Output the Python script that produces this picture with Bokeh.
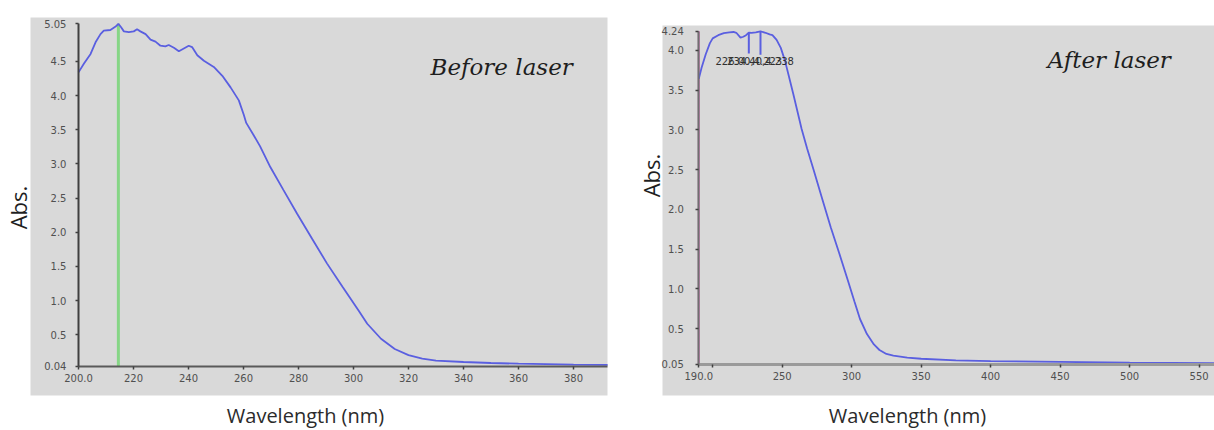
import math

from bokeh.core.properties import value
from bokeh.embed import file_html
from bokeh.layouts import row
from bokeh.models import BoxAnnotation, ColumnDataSource, FixedTicker, Label, PrintfTickFormatter, Range1d
from bokeh.plotting import figure
from bokeh.resources import INLINE

# ---------------------------------------------------------------- data
# UV-Vis absorbance spectrum before laser treatment
before_nm = [200, 202, 204.4, 206.2, 208, 209.2, 211.6, 213.5, 214.5, 215.5,
             216.5, 218.3, 220.1, 221.3, 222.5, 224.4, 226.2, 228, 229.8, 231.6,
             232.8, 234.7, 236.5, 238.3, 240.1, 241.3, 243.2, 245.6, 249.2, 252.3,
             255.3, 258.3, 260.1, 261, 263.7, 266, 269.8, 274.5, 279.5, 285,
             290.4, 296, 301.9, 305, 310, 315, 320, 325, 330, 340,
             350, 360, 370, 380, 392.4]
before_abs = [4.34, 4.47, 4.61, 4.78, 4.90, 4.95, 4.96, 5.01, 5.05, 5.00,
              4.94, 4.93, 4.94, 4.97, 4.94, 4.90, 4.82, 4.79, 4.73, 4.72,
              4.74, 4.70, 4.65, 4.69, 4.73, 4.71, 4.59, 4.51, 4.42, 4.29,
              4.12, 3.93, 3.72, 3.60, 3.42, 3.26, 2.95, 2.62, 2.27, 1.90,
              1.54, 1.20, 0.85, 0.66, 0.44, 0.29, 0.20, 0.15, 0.12, 0.10,
              0.085, 0.075, 0.068, 0.062, 0.058]

# UV-Vis absorbance spectrum after laser treatment
after_nm = [190, 192, 195, 198, 200, 204, 208, 212, 215, 217,
            220, 222, 224, 226, 228, 231, 234.4, 238, 241, 243,
            246, 249, 252, 255, 258, 261, 264, 268, 272.7, 279,
            285, 291, 297, 302, 306, 311, 316, 320, 325, 330,
            340, 350, 375, 400, 450, 500, 561]
after_abs = [3.64, 3.78, 3.95, 4.09, 4.15, 4.19, 4.215, 4.225, 4.23, 4.22,
             4.16, 4.17, 4.19, 4.223, 4.22, 4.225, 4.238, 4.22, 4.20, 4.19,
             4.13, 4.03, 3.87, 3.66, 3.45, 3.23, 3.01, 2.76, 2.49, 2.12,
             1.77, 1.45, 1.12, 0.84, 0.62, 0.43, 0.30, 0.23, 0.18, 0.16,
             0.135, 0.12, 0.10, 0.09, 0.08, 0.07, 0.065]

# picked peaks on the "after" spectrum
after_peaks_nm = [226, 234.4]

# axis ticks and their labels
before_xticks = [200, 220, 240, 260, 280, 300, 320, 340, 360, 380]
before_xtick_labels = ["200.0", "220", "240", "260", "280", "300", "320", "340", "360", "380"]
before_yticks = [0.04, 0.5, 1.0, 1.5, 2.0, 2.5, 3.0, 3.5, 4.0, 4.5, 5.05]
before_ytick_labels = ["0.04", "0.5", "1.0", "1.5", "2.0", "2.5", "3.0", "3.5", "4.0", "4.5", "5.05"]

after_xticks = [190, 200, 250, 300, 350, 400, 450, 500, 550]
after_xtick_labels = ["190.0", "", "250", "300", "350", "400", "450", "500", "550"]
after_yticks = [0.05, 0.5, 1.0, 1.5, 2.0, 2.5, 3.0, 3.5, 4.0, 4.24]
after_ytick_labels = ["0.05", "0.5", "1.0", "1.5", "2.0", "2.5", "3.0", "3.5", "4.0", "4.24"]

# ---------------------------------------------------------------- style
PANEL = "#d9d9d9"
CURVE = "#5a5fe0"
TICK_FONT = "DejaVu Sans"
TICK_COLOR = "#505050"


def make_panel(width, x_range, y_range, panel_box):
    """Whole canvas is the data frame; the grey instrument panel is a box behind the plot."""
    p = figure(width=width, height=430, x_range=Range1d(*x_range), y_range=Range1d(*y_range),
               output_backend="svg", toolbar_location=None,
               min_border_left=0, min_border_right=0, min_border_top=0, min_border_bottom=0,
               background_fill_color="white", border_fill_color="white",
               outline_line_color=None)
    p.title.visible = False
    p.grid.visible = False
    left, right, bottom, top = panel_box
    p.add_layout(BoxAnnotation(left=left, right=right, bottom=bottom, top=top,
                               fill_color=PANEL, fill_alpha=1.0, line_color=None,
                               level="underlay"))
    return p


def style_axis(ax, ticks, labels, fixed, bounds, line_color, line_width, standoff):
    ax.ticker = FixedTicker(ticks=ticks)
    ax.formatter = PrintfTickFormatter(format="%.1f")
    ax.major_label_overrides = dict(zip(ticks, labels))
    ax.fixed_location = fixed
    ax.bounds = bounds
    ax.axis_line_color = line_color
    ax.axis_line_width = line_width
    ax.major_tick_in = 0
    ax.major_tick_out = 3
    ax.major_tick_line_color = "#404040"
    ax.major_tick_line_width = 1.5
    ax.minor_tick_line_color = None
    ax.major_label_text_font = TICK_FONT
    ax.major_label_text_font_size = "10px"
    ax.major_label_text_color = TICK_COLOR
    ax.major_label_standoff = standoff


def outer_labels(p, abs_xy, wl_xy, title, title_xy):
    p.add_layout(Label(x=abs_xy[0], y=abs_xy[1], x_units="screen", y_units="screen",
                       text="Abs.", angle=math.pi / 2, text_align="center",
                       text_baseline="middle", text_font="Open Sans",
                       text_font_size="22px", text_color="#1f1f1f"))
    p.add_layout(Label(x=wl_xy[0], y=wl_xy[1], x_units="screen", y_units="screen",
                       text="Wavelength (nm)", text_align="center",
                       text_baseline="middle", text_font="Open Sans",
                       text_font_size="20px", text_color="#2b2b2b"))
    p.add_layout(Label(x=title_xy[0], y=title_xy[1], x_units="screen", y_units="screen",
                       text=title, text_align="left", text_baseline="alphabetic",
                       text_font="DejaVu Serif", text_font_style="italic",
                       text_font_size="23px", text_color="#1e1e1e"))


# ---------------------------------------------------------------- before laser
p1 = make_panel(634, (171.64, 402.18), (-0.903, 5.392), (182.55, 392.36, -0.391, 5.143))
style_axis(p1.xaxis[0], before_xticks, before_xtick_labels, before_yticks[0],
           (before_xticks[0], 392.36), "#5a5a5a", 2, 5)
style_axis(p1.yaxis[0], before_yticks, before_ytick_labels, before_xticks[0],
           (before_yticks[0], before_yticks[-1]), "#404040", 2, 9)

peak_i = before_abs.index(max(before_abs))
p1.segment(x0=[before_nm[peak_i]], y0=[before_yticks[0]], x1=[before_nm[peak_i]],
           y1=[before_yticks[-1]], line_color="#86d686", line_width=3)
p1.line(before_nm, before_abs, line_color=CURVE, line_width=1.8)

outer_labels(p1, (17, 223), (305, 15), "Before laser", (430, 364))

# ---------------------------------------------------------------- after laser
p2 = make_panel(580, (143.74, 561.08), (-0.7824, 4.626), (163.88, 561.08, -0.342, 4.312))
style_axis(p2.xaxis[0], after_xticks, after_xtick_labels, after_yticks[0],
           (after_xticks[0], 561.08), "#9a9a9a", 3, 5)
style_axis(p2.yaxis[0], after_yticks, after_ytick_labels, after_xticks[0],
           (after_yticks[0], after_yticks[-1]), "#707070", 2, 12)

# cursor line at the start wavelength
p2.segment(x0=[after_nm[0]], y0=[after_yticks[0]], x1=[after_nm[0]], y1=[after_yticks[-1]],
           line_color="#d070b8", line_width=2)
p2.line(after_nm, after_abs, line_color=CURVE, line_width=1.8)

peak_abs = [after_abs[after_nm.index(w)] for w in after_peaks_nm]
peaks = ColumnDataSource(dict(
    x=after_peaks_nm,
    top=peak_abs,
    bottom=[3.96 - 0.015 * i for i in range(len(after_peaks_nm))],
    label_y=[3.87] * len(after_peaks_nm),
    text=[f"{w:.2f},{a:.3f}" for w, a in zip(after_peaks_nm, peak_abs)],
))
p2.segment(x0="x", y0="top", x1="x", y1="bottom", source=peaks,
           line_color=CURVE, line_width=2)
p2.text(x="x", y="label_y", text="text", source=peaks, text_align="center",
        text_baseline="middle", text_font=value(TICK_FONT), text_font_size="10px",
        text_color="#303030")

outer_labels(p2, (16, 255), (273, 15), "After laser", (413, 371))

layout = row(p1, p2)
with open("out.html", "w") as f:
    f.write(file_html(layout, INLINE))
